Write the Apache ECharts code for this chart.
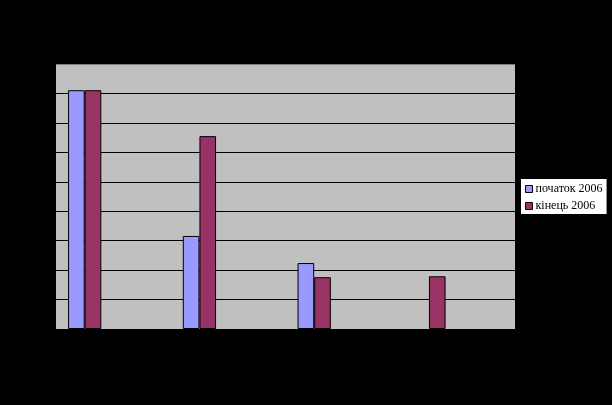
<!DOCTYPE html>
<html><head><meta charset="utf-8">
<script src="https://cdn.jsdelivr.net/npm/echarts@6/dist/echarts.min.js"></script>
<style>html,body{margin:0;padding:0;background:#000;}#c{width:612px;height:405px;}</style>
</head><body><div id="c"></div>
<script>
var categories = ['1', '', '2', '', '3', '', '4', ''];
var seriesNames = ['початок 2006', 'кінець 2006'];
var startValues = [81.1, null, 31.6, null, 22.4, null, null, null];
var endValues = [81.1, null, 65.5, null, 17.6, null, 17.9, null];
var yMin = 0, yMax = 90, yInterval = 10;

var chart = echarts.init(document.getElementById('c'));
var gridColors = [];
for (var i = 0; i < (yMax - yMin) / yInterval; i++) gridColors.push('#000');
gridColors.push('#808080');
chart.setOption({
  backgroundColor: '#000',
  animation: false,
  grid: {left: 56, top: 64, width: 459, height: 265, show: true, backgroundColor: '#C0C0C0', borderWidth: 0},
  xAxis: {type: 'category', data: categories, axisLine: {show: false}, axisTick: {show: false}, axisLabel: {show: false}},
  yAxis: {type: 'value', min: yMin, max: yMax, interval: yInterval,
    axisLine: {show: false}, axisTick: {show: false}, axisLabel: {show: false},
    splitLine: {lineStyle: {color: gridColors, width: 1}}},
  legend: {orient: 'vertical', left: 521, top: 179, backgroundColor: '#fff', borderWidth: 0,
    padding: [4, 4, 2, 4], itemGap: 5, itemWidth: 7, itemHeight: 7, icon: 'rect',
    textStyle: {fontFamily: 'Liberation Serif', fontSize: 12, color: '#000', padding: [0, 0, 0, -2]},
    itemStyle: {borderColor: '#000', borderWidth: 1},
    data: seriesNames},
  series: [
    {name: seriesNames[0], type: 'bar', data: startValues, barGap: '0%', barCategoryGap: '42%',
     itemStyle: {color: '#9999FF', borderColor: '#000', borderWidth: 1}},
    {name: seriesNames[1], type: 'bar', data: endValues, barGap: '0%', barCategoryGap: '42%',
     itemStyle: {color: '#993366', borderColor: '#000', borderWidth: 1}}
  ]
});
</script></body></html>
